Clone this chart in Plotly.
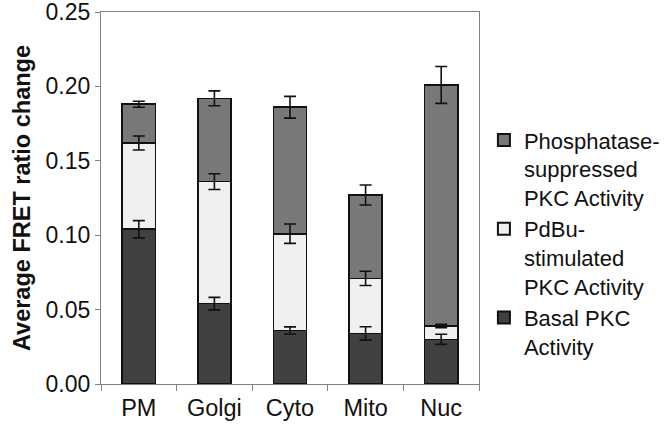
import numpy as np
import plotly.graph_objects as go

categories = ["PM", "Golgi", "Cyto", "Mito", "Nuc"]
basal = [0.104, 0.054, 0.036, 0.034, 0.030]
pdbu = [0.058, 0.082, 0.065, 0.037, 0.009]
phos = [0.026, 0.056, 0.085, 0.056, 0.162]
basal_err = [0.0058, 0.0042, 0.0024, 0.0045, 0.0034]
pdbu_err = [0.0047, 0.0053, 0.0065, 0.0048, 0.0011]
phos_err = [0.0020, 0.0050, 0.0073, 0.0067, 0.0124]
y_ticks = [0.00, 0.05, 0.10, 0.15, 0.20, 0.25]

names = ["Basal PKC<br>Activity", "PdBu-<br>stimulated<br>PKC Activity",
         "Phosphatase-<br>suppressed<br>PKC Activity"]
colors = ["#414141", "#f0f0f0", "#787878"]
series = [basal, pdbu, phos]
errs = [basal_err, pdbu_err, phos_err]

fig = go.Figure()
for vals, name, col in zip(series, names, colors):
    fig.add_trace(go.Bar(
        x=categories, y=vals, name=name,
        marker=dict(color=col, line=dict(color="#111111", width=1.6)),
    ))

cum = np.cumsum(np.array(series), axis=0)
for top, e in zip(cum, errs):
    fig.add_trace(go.Scatter(
        x=categories, y=top, mode="markers", showlegend=False, hoverinfo="skip",
        marker=dict(size=1, color="rgba(0,0,0,0)"),
        error_y=dict(type="data", array=e, visible=True, color="#111111",
                     thickness=1.6, width=6),
    ))

font = "Liberation Sans, Arial, sans-serif"
fig.update_layout(
    width=670, height=429,
    margin=dict(l=101, r=191, t=12, b=45, autoexpand=False),
    barmode="stack", bargap=0.56,
    plot_bgcolor="white", paper_bgcolor="white",
    font=dict(family=font, size=23, color="#111111"),
    showlegend=True,
    legend=dict(x=1.013, y=0.712, xanchor="left", yanchor="top",
                traceorder="reversed", valign="top",
                font=dict(size=22, family=font, color="#111111"),
                itemsizing="constant", tracegroupgap=4, bgcolor="rgba(0,0,0,0)"),
    xaxis=dict(showline=True, linecolor="#808080", linewidth=1.2, mirror=True,
               ticks="outside", tickson="boundaries", ticklen=6, tickcolor="#808080",
               tickfont=dict(size=23.5), showgrid=False, automargin=False,
               ticklabelstandoff=3),
    yaxis=dict(range=[0, 0.25], tickvals=y_ticks, tickformat=".2f",
               showline=True, linecolor="#808080", linewidth=1.2, mirror=True,
               ticks="outside", ticklen=5, tickcolor="#808080",
               tickfont=dict(size=23), showgrid=False, zeroline=False, automargin=False,
               ticklabeloverflow="allow",
               title=dict(text="<b>Average FRET ratio change</b>",
                          font=dict(size=23.5), standoff=8)),
)
fig.write_html("out.html", config={"displayModeBar": False},
               post_script="document.body.style.margin='0';")
